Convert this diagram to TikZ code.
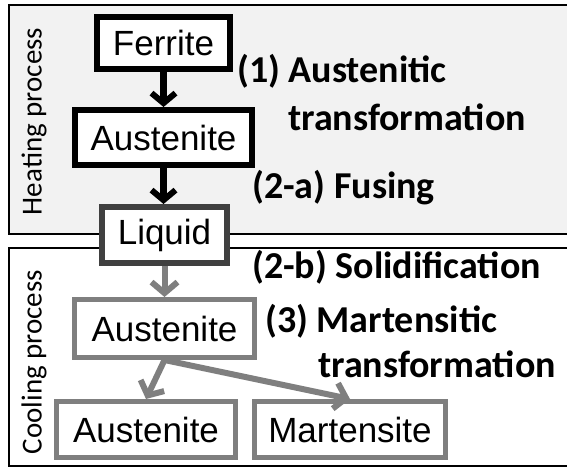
\documentclass[tikz,border=0pt]{standalone}
\usepackage{fontspec}
\setmainfont{Liberation Sans}
\newfontfamily\calfont{Carlito}
\usetikzlibrary{arrows.meta}
\definecolor{heatbg}{HTML}{F2F2F2}
\definecolor{liqc}{HTML}{404040}
\definecolor{coolc}{HTML}{7F7F7F}
\begin{document}
\begin{tikzpicture}[x=1pt,y=-1pt,
  procbox/.style={draw, fill=white, line width=6pt, inner sep=0pt, text=black,
    font=\fontsize{35}{40}\selectfont},
  coolbox/.style={procbox, draw=coolc, line width=5pt},
  lbl/.style={anchor=base west, inner sep=0pt, text=black,
    font=\calfont\bfseries\fontsize{38}{44}\selectfont},
  side/.style={rotate=90, inner sep=0pt, text=black,
    font=\calfont\fontsize{29}{32}\selectfont},
  panel/.style={draw=black, line width=1.5pt},
  flow/.style={line width=7pt, -{Straight Barb[length=10pt,width=24pt,line width=6pt]}},
  coolflow/.style={line width=6pt, draw=coolc, -{Straight Barb[length=11pt,width=26pt,line width=6pt]}}]
\useasboundingbox (0,0) rectangle (567,468);
% panels
\draw[panel, fill=heatbg] (9,5) rectangle (580,234);
\draw[panel, fill=white] (9,248) rectangle (580,466);
\node[side] (heat) at (34,121.5) {Heating process};
\node[side] (cool) at (34,362) {Cooling process};
% boxes
\node[procbox, minimum width=133pt, minimum height=52pt] (fer) at (163.5,43) {Ferrite};
\node[procbox, minimum width=177pt, minimum height=55pt] (aus1) at (163.5,137.5) {Austenite};
\node[procbox, draw=liqc, minimum width=125pt, minimum height=56pt] (liq) at (164.5,235) {Liquid};
\node[coolbox, minimum width=180pt, minimum height=58pt] (aus2) at (164.5,328.5) {Austenite};
\node[coolbox, minimum width=179pt, minimum height=56pt] (aus3) at (146,429.5) {Austenite};
\node[coolbox, minimum width=191pt, minimum height=56pt] (mart) at (350,429.5) {Martensite};
% arrows
\draw[flow] (fer.south) -- (fer.south |- aus1.north);
\draw[flow] (aus1.south) -- (aus1.south |- liq.north);
\draw[coolflow] (liq.south) -- (liq.south |- aus2.north);
\draw[coolflow] (aus2.south) -- (aus3.north);
\draw[coolflow] (aus2.south) -- (mart.north);
% labels
\node[lbl] (l1) at (237,83) {(1) Austenitic};
\node[lbl] (l1b) at (288,130) {transformation};
\node[lbl] (l2a) at (252,198) {(2-a) Fusing};
\node[lbl] (l2b) at (252,278) {(2-b) Solidification};
\node[lbl] (l3) at (265,332) {(3) Martensitic};
\node[lbl] (l3b) at (318,377) {transformation};
\end{tikzpicture}
\end{document}
